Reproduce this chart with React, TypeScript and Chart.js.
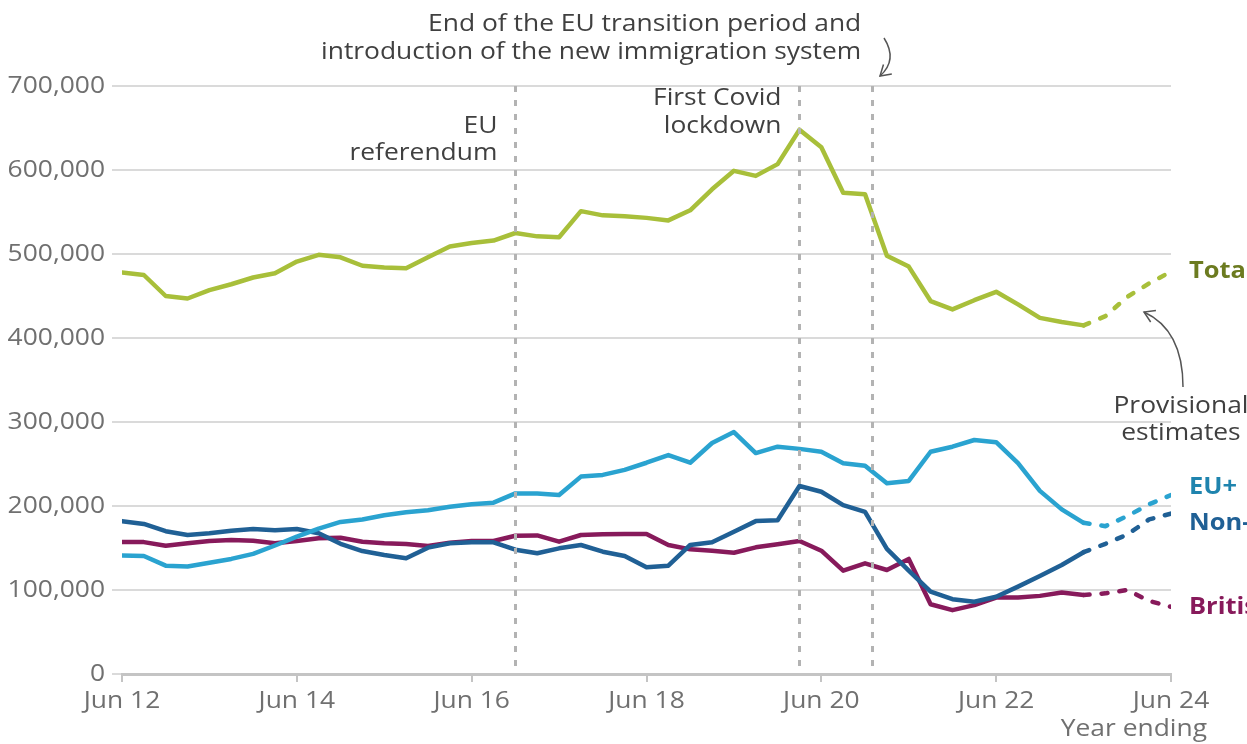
import React, { useEffect, useRef } from 'react';
import { Chart, registerables } from 'chart.js';

Chart.register(...registerables);

// Quarter index 0 = year ending Jun 12 ... 48 = year ending Jun 24
const xTickLabels = ['Jun 12', 'Jun 14', 'Jun 16', 'Jun 18', 'Jun 20', 'Jun 22', 'Jun 24'];
const yTickValues = [0, 100000, 200000, 300000, 400000, 500000, 600000, 700000];

const totalValues = [
  478000, 475000, 450000, 447000, 457000, 464000, 472000, 477000, 491000, 499000,
  496000, 486000, 484000, 483000, 496000, 509000, 513000, 516000, 525000, 521000,
  520000, 551000, 546000, 545000, 543000, 540000, 552000, 577000, 599000, 593000,
  607000, 648000, 627000, 573000, 571000, 498000, 485000, 444000, 434000, 445000,
  455000, 440000, 424000, 419000, 415000, 426000, 449000, 465000, 479000,
];
const euPlusValues = [
  141000, 140500, 129000, 128000, 132500, 137000, 143000, 153000, 163500, 173000,
  181000, 184000, 189000, 192500, 195000, 199000, 202000, 204000, 215000, 215000,
  213000, 235000, 237000, 243000, 251500, 260700, 251500, 275000, 288000, 263000,
  270600, 268000, 264600, 251000, 248000, 227000, 229800, 264600, 270600, 278600,
  276000, 251000, 218000, 196000, 180000, 176000, 188000, 202000, 213000,
];
const nonEuPlusValues = [
  182000, 178600, 170000, 165500, 167500, 170600, 172600, 171000, 172600, 167500,
  155000, 146400, 141700, 137700, 150400, 155600, 156800, 156800, 148000, 143700,
  149600, 153600, 145600, 140500, 127000, 129000, 153600, 156800, 169400, 182000,
  183000, 223800, 217000, 201000, 193000, 149000, 123000, 98000, 89000, 86000,
  92000, 104000, 116700, 129800, 145000, 155000, 166000, 184000, 191000,
];
const britishValues = [
  157000, 157000, 152700, 155600, 158300, 159500, 158700, 155600, 158300, 161500,
  162300, 157500, 155600, 154800, 152400, 156300, 158300, 158300, 164600, 165000,
  157500, 165500, 166300, 166700, 166700, 153600, 148400, 146800, 144400, 150800,
  154400, 158300, 146800, 123000, 131800, 123800, 137000, 83000, 76000, 82000,
  91000, 91000, 93000, 97000, 94000, 96000, 100000, 87000, 80000,
];

const provisionalStart = 44; // Jun 23: from here on the line is dashed

const seriesNames = ['Total', 'EU+', 'Non-EU+', 'British'];
const seriesColors = ['#a8bf3a', '#2aa3d0', '#206095', '#871a5b'];
const labelColors = ['#6c7b20', '#1f84ae', '#206095', '#871a5b'];
const labelAnchorValues = [479000, 222000, 180000, 80000];

// event markers (quarter index)
const eventPositions = [18, 31, 34.33];
const eventTexts = [
  ['EU', 'referendum'],
  ['First Covid', 'lockdown'],
  ['End of the EU transition period and', 'introduction of the new immigration system'],
];

const FONT = '"Open Sans", "Noto Sans", sans-serif';
const FONT_SIZE = 24;
const STRETCH = 1.1;
const BOLD_STRETCH = 1.06;

const toPoints = (vals: number[]) => vals.map((v, i) => ({ x: i, y: v }));

const drawText = (
  ctx: CanvasRenderingContext2D,
  text: string,
  x: number,
  y: number,
  align: CanvasTextAlign,
  stretch: number = STRETCH,
) => {
  ctx.save();
  ctx.translate(x, y);
  ctx.scale(stretch, 1);
  ctx.textAlign = align;
  ctx.textBaseline = 'middle';
  ctx.fillText(text, 0, 0);
  ctx.restore();
};

const annotationPlugin = {
  id: 'annotations',
  afterDatasetsDraw(chart: any) {
    const { ctx, chartArea, scales } = chart;
    const xs = scales.x;
    ctx.save();
    ctx.strokeStyle = '#b3b3b3';
    ctx.lineWidth = 3;
    ctx.setLineDash([6, 8]);
    eventPositions.forEach((p) => {
      const x = Math.round(xs.getPixelForValue(p)) + 0.5;
      ctx.beginPath();
      ctx.moveTo(x, chartArea.top);
      ctx.lineTo(x, chartArea.bottom);
      ctx.stroke();
    });
    ctx.restore();
  },
  afterDraw(chart: any) {
    const { ctx, chartArea, scales } = chart;
    const xs = scales.x;
    const ys = scales.y;
    ctx.save();
    ctx.font = `${FONT_SIZE}px ${FONT}`;

    // axis tick labels
    ctx.fillStyle = '#707070';
    yTickValues.forEach((v) => {
      drawText(ctx, v.toLocaleString('en-GB'), 105, ys.getPixelForValue(v), 'right');
    });
    xTickLabels.forEach((t, i) => {
      drawText(ctx, t, xs.getPixelForValue(i * 8), 701, 'center');
    });
    drawText(ctx, 'Year ending', 1207, 729, 'right');

    ctx.fillStyle = '#404040';
    // EU referendum
    const xRef = xs.getPixelForValue(eventPositions[0]);
    drawText(ctx, eventTexts[0][0], xRef - 18, 126, 'right');
    drawText(ctx, eventTexts[0][1], xRef - 18, 153, 'right');
    // Covid
    const xCov = xs.getPixelForValue(eventPositions[1]);
    drawText(ctx, eventTexts[1][0], xCov - 18, 98, 'right');
    drawText(ctx, eventTexts[1][1], xCov - 18, 126, 'right');
    // transition
    const xTr = xs.getPixelForValue(eventPositions[2]);
    drawText(ctx, eventTexts[2][0], xTr - 11, 24, 'right');
    drawText(ctx, eventTexts[2][1], xTr - 11, 52, 'right');

    // provisional estimates
    drawText(ctx, 'Provisional', 1181, 406, 'center');
    drawText(ctx, 'estimates', 1181, 433, 'center');

    // series labels
    ctx.font = `bold ${FONT_SIZE}px ${FONT}`;
    seriesNames.forEach((n, i) => {
      ctx.fillStyle = labelColors[i];
      drawText(ctx, n, chartArea.right + 18, ys.getPixelForValue(labelAnchorValues[i]), 'left', BOLD_STRETCH);
    });

    // arrows
    ctx.strokeStyle = '#555555';
    ctx.lineWidth = 1.5;
    const arrow = (x0: number, y0: number, cx: number, cy: number, x1: number, y1: number) => {
      ctx.beginPath();
      ctx.moveTo(x0, y0);
      ctx.quadraticCurveTo(cx, cy, x1, y1);
      ctx.stroke();
      const ang = Math.atan2(y1 - cy, x1 - cx);
      const len = 12;
      ctx.beginPath();
      ctx.moveTo(x1 - len * Math.cos(ang - 0.55), y1 - len * Math.sin(ang - 0.55));
      ctx.lineTo(x1, y1);
      ctx.lineTo(x1 - len * Math.cos(ang + 0.55), y1 - len * Math.sin(ang + 0.55));
      ctx.stroke();
    };
    arrow(884, 38, 898, 60, 880, 76);
    arrow(1183, 387, 1183, 330, 1144, 312);
    ctx.restore();
  },
};

export default function App() {
  const canvasRef = useRef<HTMLCanvasElement | null>(null);

  useEffect(() => {
    const canvas = canvasRef.current;
    if (!canvas) return;
    const valueSets = [totalValues, euPlusValues, nonEuPlusValues, britishValues];
    const datasets = valueSets.map((vals, i) => ({
      label: seriesNames[i],
      data: toPoints(vals),
      borderColor: seriesColors[i],
      backgroundColor: seriesColors[i],
      borderWidth: 4.5,
      borderCapStyle: 'round' as const,
      borderJoinStyle: 'round' as const,
      pointRadius: 0,
      tension: 0,
      fill: false,
      segment: {
        borderDash: (ctx: any) => (ctx.p0DataIndex >= provisionalStart ? [6, 12] : undefined),
      },
    }));

    const chart = new Chart(canvas, {
      type: 'line',
      data: { datasets },
      options: {
        responsive: false,
        animation: false,
        devicePixelRatio: 1,
        layout: { padding: { top: 86, right: 76, left: 0, bottom: 0 } },
        plugins: { legend: { display: false }, tooltip: { enabled: false } },
        scales: {
          x: {
            type: 'linear',
            min: 0,
            max: 48,
            afterFit: (s: any) => {
              s.height = 70;
            },
            ticks: {
              display: false,
              stepSize: 8,
              autoSkip: false,
              maxRotation: 0,
              callback: (v: any) => xTickLabels[Math.round(Number(v) / 8)] ?? '',
            },
            grid: { drawOnChartArea: false, drawTicks: true, tickLength: 8, color: '#c4c4c4', lineWidth: 2 },
            border: { display: true, color: '#c4c4c4', width: 3 },
          },
          y: {
            min: 0,
            max: 700000,
            afterFit: (s: any) => {
              s.width = 122;
            },
            afterBuildTicks: (s: any) => {
              s.ticks = yTickValues.map((v) => ({ value: v }));
            },
            ticks: {
              display: false,
            },
            grid: { color: '#dadada', lineWidth: 2, tickLength: 10, drawTicks: true },
            border: { display: false },
          },
        },
      },
      plugins: [annotationPlugin],
    } as any);
    return () => chart.destroy();
  }, []);

  return (
    <div style={{ position: 'absolute', left: 0, top: 0, width: 1247, height: 744, background: '#fff' }}>
      <canvas ref={canvasRef} width={1247} height={744} style={{ display: 'block', width: 1247, height: 744 }} />
    </div>
  );
}
